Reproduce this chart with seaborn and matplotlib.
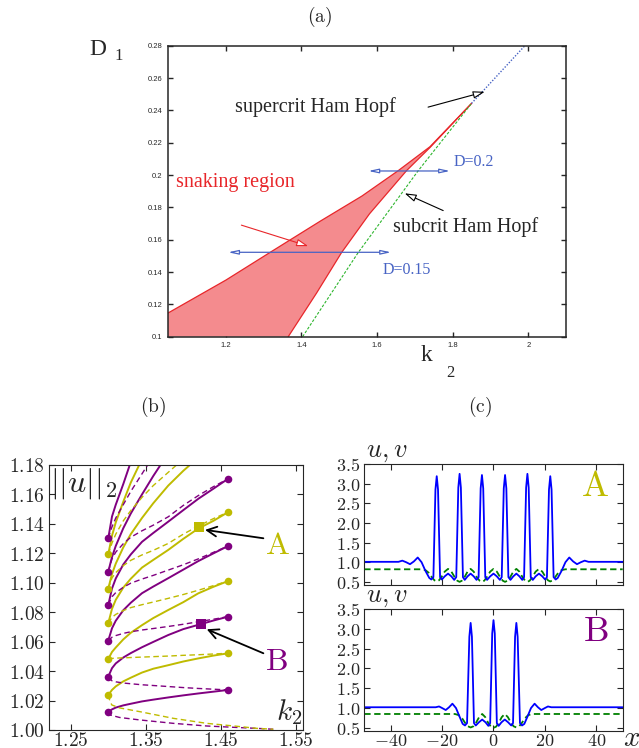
import matplotlib
matplotlib.use("Agg")
import matplotlib.pyplot as plt
import seaborn as sns

sns.set_style("ticks")
plt.rcParams["font.family"] = ["DejaVu Sans"]
plt.rcParams["mathtext.fontset"] = "cm"

# ---------------- (a) data: D1 versus k2 ----------------
snake_up_k = [1.046, 1.20, 1.316, 1.45, 1.56, 1.656, 1.74, 1.85]
snake_up_d = [0.1145, 0.135, 0.152, 0.1715, 0.187, 0.2027, 0.2175, 0.2443]
snake_lo_k = [1.365, 1.44, 1.506, 1.58, 1.678, 1.74, 1.85]
snake_lo_d = [0.100, 0.127, 0.152, 0.176, 0.2027, 0.2170, 0.2443]
subcrit_k = [1.403, 1.55, 1.709, 1.85]
subcrit_d = [0.100, 0.152, 0.2027, 0.2443]
supercrit_k = [1.85, 1.995]
supercrit_d = [0.2443, 0.281]
a_xticks = [1.2, 1.4, 1.6, 1.8, 2.0]
a_xlabels = ["1.2", "1.4", "1.6", "1.8", "2"]
a_yticks = [0.1, 0.12, 0.14, 0.16, 0.18, 0.2, 0.22, 0.24, 0.26, 0.28]
a_ylabels = ["0.1", "0.12", "0.14", "0.16", "0.18", "0.2", "0.22", "0.24", "0.26", "0.28"]

# ---------------- (b) data: ||u||_2 versus k2 ----------------
ks = [1.300, 1.305, 1.310, 1.320, 1.330, 1.345, 1.360, 1.380, 1.400, 1.420, 1.440, 1.460]
# stable (solid) branches, left fold -> right fold
p_s1 = [1.0124, 1.0140, 1.0152, 1.0167, 1.0178, 1.0194, 1.0206, 1.0221, 1.0235, 1.0248, 1.0260, 1.0272]
p_s2 = [1.0362, 1.0420, 1.0452, 1.0492, 1.0522, 1.0562, 1.0598, 1.0645, 1.0685, 1.0714, 1.0743, 1.0770]
p_s3 = [1.0607, 1.0691, 1.0742, 1.0813, 1.0864, 1.0929, 1.0974, 1.1031, 1.1089, 1.1147, 1.1199, 1.1250]
p_s4 = [1.0849, 1.0961, 1.1029, 1.1124, 1.1192, 1.1278, 1.1338, 1.1415, 1.1493, 1.1570, 1.1638, 1.1707]
y_s1 = [1.0238, 1.0272, 1.0296, 1.0330, 1.0355, 1.0390, 1.0416, 1.0440, 1.0465, 1.0486, 1.0505, 1.0521]
y_s2 = [1.0482, 1.0530, 1.0560, 1.0615, 1.0660, 1.0712, 1.0760, 1.0815, 1.0868, 1.0928, 1.0972, 1.1012]
y_s3 = [1.0725, 1.0823, 1.0884, 1.0967, 1.1027, 1.1103, 1.1155, 1.1223, 1.1298, 1.1368, 1.1420, 1.1480]
# unstable (dashed) branches, left fold -> right fold
p_d1 = [1.0358, 1.0334, 1.0327, 1.0319, 1.0314, 1.0307, 1.0302, 1.0295, 1.0288, 1.0282, 1.0277, 1.0272]
p_d2 = [1.0607, 1.0630, 1.0641, 1.0656, 1.0667, 1.0679, 1.0689, 1.0703, 1.0718, 1.0735, 1.0752, 1.0770]
p_d3 = [1.0849, 1.0905, 1.0933, 1.0969, 1.0997, 1.1025, 1.1050, 1.1086, 1.1122, 1.1162, 1.1206, 1.1250]
p_d4 = [1.1075, 1.1163, 1.1208, 1.1265, 1.1309, 1.1353, 1.1391, 1.1448, 1.1525, 1.1592, 1.1652, 1.1707]
y_d1 = [1.0482, 1.0486, 1.0488, 1.0490, 1.0492, 1.0495, 1.0498, 1.0502, 1.0507, 1.0511, 1.0516, 1.0521]
y_d2 = [1.0725, 1.0765, 1.0785, 1.0811, 1.0831, 1.0851, 1.0869, 1.0894, 1.0920, 1.0949, 1.0980, 1.1012]
y_d3 = [1.0960, 1.1033, 1.1069, 1.1116, 1.1152, 1.1189, 1.1220, 1.1267, 1.1330, 1.1385, 1.1435, 1.1480]
# branches that leave through the top
p_s5 = [1.1075, 1.1175, 1.1250, 1.1370, 1.1470, 1.1600, 1.1725, 1.1880]
p_s6 = [1.1302, 1.1450, 1.1530, 1.1670, 1.1820, 1.2000]
y_s4 = [1.0960, 1.1060, 1.1130, 1.1240, 1.1330, 1.1440, 1.1540, 1.1660, 1.1760, 1.1850]
y_s5 = [1.1193, 1.1320, 1.1410, 1.1550, 1.1680, 1.1840]
p_d5 = [1.1302, 1.1380, 1.1440, 1.1530, 1.1620, 1.1740, 1.1860]
y_d4 = [1.1193, 1.1270, 1.1330, 1.1420, 1.1490, 1.1580, 1.1660, 1.1750, 1.1840]
# branches towards the homogeneous state
p_d0_k = [1.300, 1.3024, 1.315, 1.3424, 1.3868, 1.4313, 1.4757, 1.498, 1.52]
p_d0 = [1.0124, 1.0102, 1.0085, 1.0068, 1.0045, 1.0027, 1.0016, 1.0011, 1.0005]
y_d0_k = [1.300, 1.302, 1.3047, 1.315, 1.3424, 1.3868, 1.4313, 1.4757, 1.498, 1.52]
y_d0 = [1.0238, 1.0200, 1.0170, 1.0150, 1.0124, 1.0079, 1.0045, 1.0023, 1.0011, 1.0005]
# fold points
p_left = [1.0124, 1.0362, 1.0607, 1.0849, 1.1075, 1.1302]
y_left = [1.0238, 1.0482, 1.0725, 1.0960, 1.1193]
p_right = [1.0272, 1.0770, 1.1250, 1.1707]
y_right = [1.0521, 1.1012, 1.1480]
k_left, k_right = 1.30, 1.46
pt_A = (1.4216, 1.138)
pt_B = (1.4237, 1.0718)
b_yticks = [1.00, 1.02, 1.04, 1.06, 1.08, 1.10, 1.12, 1.14, 1.16, 1.18]
b_ylabels = ["1.00", "1.02", "1.04", "1.06", "1.08", "1.10", "1.12", "1.14", "1.16", "1.18"]
b_xticks = [1.25, 1.35, 1.45, 1.55]
b_xlabels = ["1.25", "1.35", "1.45", "1.55"]

# ---------------- (c) data: profiles u (solid) and v (dashed) ----------------
uA_x = [-50.3, -40, -37, -35.5, -34, -32.5, -31, -29.5, -28, -26.5, -25, -24.2, -23.4, -22.6, -22.1, -21.6,
        -20.8, -20.1, -19.0, -17.7, -16.4, -15.3, -14.5, -13.7, -13.2, -12.7, -11.9, -11.2, -10.1, -8.9,
        -7.7, -6.6, -5.8, -5.0, -4.5, -4.0, -3.2, -2.5, -1.3, 0, 1.3, 2.5, 3.2, 4.0, 4.5, 5.0, 5.8, 6.6,
        7.7, 8.9, 10.1, 11.2, 11.9, 12.7, 13.2, 13.7, 14.5, 15.3, 16.4, 17.7, 19.0, 20.1, 20.8, 21.6,
        22.1, 22.6, 23.4, 24.2, 25, 26.5, 28, 29.5, 31, 32.5, 34, 35.5, 37, 40, 50.3]
uA = [1.01, 1.01, 1.01, 1.04, 1.00, 0.95, 1.02, 1.12, 1.00, 0.78, 0.60, 0.56, 0.62, 2.85, 3.19, 2.85,
      0.62, 0.56, 0.64, 0.71, 0.64, 0.55, 0.62, 2.90, 3.25, 2.90, 0.62, 0.55, 0.64, 0.71,
      0.64, 0.55, 0.62, 2.88, 3.22, 2.88, 0.62, 0.55, 0.64, 0.71, 0.64, 0.55, 0.62, 2.88, 3.22, 2.88, 0.62, 0.55,
      0.64, 0.71, 0.64, 0.55, 0.62, 2.90, 3.25, 2.90, 0.62, 0.55, 0.64, 0.71, 0.64, 0.56, 0.62, 2.85,
      3.19, 2.85, 0.62, 0.56, 0.60, 0.78, 1.00, 1.12, 1.02, 0.95, 1.00, 1.04, 1.01, 1.01, 1.01]
vA_x = [-50.3, -28, -26.5, -25.2, -24, -23, -22.1, -21.2, -20.2, -19, -17.7, -16.4, -15.2, -14.1, -13.2,
        -12.3, -11.2, -10.1, -8.9, -7.7, -6.6, -5.4, -4.5, -3.6, -2.5, -1.3, 0, 1.3, 2.5, 3.6, 4.5, 5.4,
        6.6, 7.7, 8.9, 10.1, 11.2, 12.3, 13.2, 14.1, 15.2, 16.4, 17.7, 19, 20.2, 21.2, 22.1, 23, 24,
        25.2, 26.5, 28, 50.3]
vA = [0.82, 0.82, 0.80, 0.73, 0.62, 0.54, 0.51, 0.54, 0.63, 0.76, 0.83, 0.76, 0.63, 0.53, 0.50,
      0.53, 0.63, 0.76, 0.83, 0.76, 0.63, 0.53, 0.50, 0.53, 0.63, 0.76, 0.83, 0.76, 0.63, 0.53, 0.50, 0.53,
      0.63, 0.76, 0.83, 0.76, 0.63, 0.53, 0.50, 0.53, 0.63, 0.76, 0.83, 0.76, 0.63, 0.54, 0.51, 0.54, 0.62,
      0.73, 0.80, 0.82, 0.82]
uB_x = [-50.3, -25, -22.5, -21.2, -20, -18.6, -17.3, -16.0, -14.6, -13.2, -12, -11.1, -10.3, -9.4, -8.9,
        -8.4, -7.6, -6.9, -5.7, -4.4, -3.1, -2.0, -1.3, -0.5, 0, 0.5, 1.3, 2.0, 3.1, 4.4, 5.7, 6.9, 7.6,
        8.4, 8.9, 9.4, 10.3, 11.1, 12, 13.2, 14.6, 16.0, 17.3, 18.6, 20, 21.2, 22.5, 25, 50.3]
uB = [1.02, 1.02, 1.02, 1.04, 1.00, 0.95, 1.02, 1.11, 1.00, 0.78, 0.60, 0.56, 0.62, 2.80, 3.15,
      2.80, 0.62, 0.56, 0.64, 0.71, 0.64, 0.55, 0.62, 2.88, 3.22, 2.88, 0.62, 0.55, 0.64, 0.71, 0.64, 0.56, 0.62,
      2.80, 3.15, 2.80, 0.62, 0.56, 0.60, 0.78, 1.00, 1.11, 1.02, 0.95, 1.00, 1.04, 1.02, 1.02, 1.02]
vB_x = [-50.3, -15, -13.5, -12.2, -11, -10, -8.9, -7.8, -6.8, -5.6, -4.4, -3.2, -2.1, -1.0, 0,
        1.0, 2.1, 3.2, 4.4, 5.6, 6.8, 7.8, 8.9, 10, 11, 12.2, 13.5, 15, 50.3]
vB = [0.85, 0.85, 0.82, 0.74, 0.62, 0.54, 0.51, 0.54, 0.63, 0.77, 0.85, 0.77, 0.63, 0.53, 0.50,
      0.53, 0.63, 0.77, 0.85, 0.77, 0.63, 0.54, 0.51, 0.54, 0.62, 0.74, 0.82, 0.85, 0.85]
c_yticks = [0.5, 1.0, 1.5, 2.0, 2.5, 3.0, 3.5]
c_ylabels = ["0.5", "1.0", "1.5", "2.0", "2.5", "3.0", "3.5"]
c_xticks = [-40, -20, 0, 20, 40]
c_xlabels = ["-40", "-20", "0", "20", "40"]

PURPLE = "#800080"
YELLOW = "#bfbb00"
RED = "#e8262a"
FILL = "#f48b8e"
BLUE_A = "#4763c4"


def curve(ax, x, y, color, ls="-", lw=1.3):
    sns.lineplot(x=list(x), y=list(y), ax=ax, color=color, linestyle=ls, linewidth=lw,
                 sort=False, estimator=None)


def math_ticks(ax, xt, xl, yt, yl, size):
    ax.set_xticks(xt)
    ax.set_xticklabels(["$%s$" % s for s in xl] if xl else [], fontsize=size)
    ax.set_yticks(yt)
    ax.set_yticklabels(["$%s$" % s for s in yl], fontsize=size)
    ax.tick_params(direction="in", top=True, right=True, length=4.5, width=0.8)
    ax.tick_params(axis="x", pad=0.5)
    ax.tick_params(axis="y", pad=3)
    for s in ax.spines.values():
        s.set_linewidth(0.8)
        s.set_visible(True)


fig = plt.figure(figsize=(6.39, 7.48), dpi=100)

# =============== (a) ===============
axa = fig.add_axes([0.2624, 0.5499, 0.6234, 0.3890])
poly_k = [1.046] + snake_up_k + snake_lo_k[::-1]
poly_d = [0.100] + snake_up_d + snake_lo_d[::-1]
axa.fill(poly_k, poly_d, color=FILL, lw=0)
curve(axa, snake_up_k, snake_up_d, RED, lw=0.9)
curve(axa, snake_lo_k, snake_lo_d, RED, lw=0.9)
curve(axa, subcrit_k, subcrit_d, "#2db52d", ls=(0, (2.5, 1.5)), lw=0.8)
curve(axa, supercrit_k, supercrit_d, BLUE_A, ls=(0, (1, 1.2)), lw=1.0)
axa.set_xlim(1.046, 2.1)
axa.set_ylim(0.1, 0.28)
axa.set_xticks(a_xticks)
axa.set_xticklabels(a_xlabels, fontsize=5.5, family="Liberation Sans")
axa.set_yticks(a_yticks)
axa.set_yticklabels(a_ylabels, fontsize=5.5, family="Liberation Sans")
axa.tick_params(direction="in", top=True, right=True, length=3.5, width=1.0, pad=4)
for s in axa.spines.values():
    s.set_linewidth(1.1)
axa.set_xlabel("")
axa.set_ylabel("")

serif = "Liberation Serif"
axa.text(1.224, 0.2392, "supercrit Ham Hopf", fontsize=14.5, family=serif)
axa.text(1.641, 0.165, "subcrit Ham Hopf", fontsize=14.5, family=serif)
axa.text(1.068, 0.1924, "snaking region", fontsize=14.5, family=serif, color=RED)
axa.text(1.803, 0.2056, "D=0.2", fontsize=11.5, family=serif, color=BLUE_A)
axa.text(1.6145, 0.1386, "D=0.15", fontsize=11.5, family=serif, color=BLUE_A)
open_head = "-|>,head_length=0.7,head_width=0.22"
axa.annotate("", xy=(1.885, 0.2515), xytext=(1.735, 0.242),
             arrowprops=dict(arrowstyle=open_head, fc="white", ec="black", lw=0.8, shrinkA=0, shrinkB=0))
axa.annotate("", xy=(1.673, 0.1887), xytext=(1.775, 0.178),
             arrowprops=dict(arrowstyle=open_head, fc="white", ec="black", lw=0.8, shrinkA=0, shrinkB=0))
axa.annotate("", xy=(1.418, 0.156), xytext=(1.241, 0.169),
             arrowprops=dict(arrowstyle=open_head, fc="white", ec=RED, lw=0.8, shrinkA=0, shrinkB=0))
both_head = "<|-|>,head_length=0.6,head_width=0.13"
axa.annotate("", xy=(1.793, 0.2025), xytext=(1.577, 0.2025),
             arrowprops=dict(arrowstyle=both_head, fc="white", ec=BLUE_A, lw=0.9, shrinkA=0, shrinkB=0))
axa.annotate("", xy=(1.637, 0.1522), xytext=(1.206, 0.1522),
             arrowprops=dict(arrowstyle=both_head, fc="white", ec=BLUE_A, lw=0.9, shrinkA=0, shrinkB=0))

fig.text(89 / 639, 1 - 55 / 748, "D", fontsize=17, family=serif)
fig.text(114 / 639, 1 - 60 / 748, "1", fontsize=12, family=serif)
fig.text(421 / 639, 1 - 361 / 748, "k", fontsize=17, family=serif)
fig.text(446 / 639, 1 - 377 / 748, "2", fontsize=12, family=serif)
fig.text(320 / 639, 1 - 17 / 748, r"$\mathrm{(a)}$", fontsize=14, ha="center", va="center")
fig.text(153 / 639, 1 - 407 / 748, r"$\mathrm{(b)}$", fontsize=14, ha="center", va="center")
fig.text(480 / 639, 1 - 407 / 748, r"$\mathrm{(c)}$", fontsize=14, ha="center", va="center")

# =============== (b) ===============
axb = fig.add_axes([0.0767, 0.0241, 0.3979, 0.3543])
dash = (0, (4, 2.5))
for ys in [p_s1, p_s2, p_s3, p_s4, p_s5, p_s6]:
    curve(axb, ks[:len(ys)], ys, PURPLE, lw=1.4)
for ys in [y_s1, y_s2, y_s3, y_s4, y_s5]:
    curve(axb, ks[:len(ys)], ys, YELLOW, lw=1.4)
for ys in [p_d1, p_d2, p_d3, p_d4, p_d5]:
    curve(axb, ks[:len(ys)], ys, PURPLE, ls=dash, lw=1.0)
for ys in [y_d1, y_d2, y_d3, y_d4]:
    curve(axb, ks[:len(ys)], ys, YELLOW, ls=dash, lw=1.0)
curve(axb, p_d0_k, p_d0, PURPLE, ls=dash, lw=1.0)
curve(axb, y_d0_k, y_d0, YELLOW, ls=dash, lw=1.0)
sns.scatterplot(x=[k_left] * len(p_left) + [k_right] * len(p_right), y=p_left + p_right,
                ax=axb, color=PURPLE, s=30, linewidth=0, zorder=5)
sns.scatterplot(x=[k_left] * len(y_left) + [k_right] * len(y_right), y=y_left + y_right,
                ax=axb, color=YELLOW, s=30, linewidth=0, zorder=5)
sns.scatterplot(x=[pt_A[0]], y=[pt_A[1]], ax=axb, color=YELLOW, marker="s", s=45, linewidth=0, zorder=6)
sns.scatterplot(x=[pt_B[0]], y=[pt_B[1]], ax=axb, color=PURPLE, marker="s", s=45, linewidth=0, zorder=6)
axb.set_xlim(1.221, 1.560)
axb.set_ylim(1.0, 1.18)
math_ticks(axb, b_xticks, b_xlabels, b_yticks, b_ylabels, 14)
axb.set_xlabel("")
axb.set_ylabel("")
axb.annotate("", xy=(1.429, 1.1359), xytext=(1.5068, 1.1302),
             arrowprops=dict(arrowstyle="->,head_length=0.7,head_width=0.35", color="black", lw=1.3,
                             shrinkA=0, shrinkB=0))
axb.annotate("", xy=(1.4313, 1.0684), xytext=(1.5068, 1.0521),
             arrowprops=dict(arrowstyle="->,head_length=0.7,head_width=0.35", color="black", lw=1.3,
                             shrinkA=0, shrinkB=0))
axb.text(1.5255, 1.1252, r"$\mathrm{A}$", fontsize=23, color=YELLOW, ha="center", va="center")
axb.text(1.5247, 1.0464, r"$\mathrm{B}$", fontsize=23, color=PURPLE, ha="center", va="center")
axb.text(0.005, 0.995, r"$||u||_2$", transform=axb.transAxes, fontsize=23, ha="left", va="top")
axb.text(0.995, 0.01, r"$k_2$", transform=axb.transAxes, fontsize=21, ha="right", va="bottom")

# =============== (c) ===============
axA = fig.add_axes([0.5701, 0.2179, 0.4044, 0.1618])
axB = fig.add_axes([0.5701, 0.0227, 0.4044, 0.1631])
for ax, ux, u, vx, v, name, col in [(axA, uA_x, uA, vA_x, vA, "A", YELLOW),
                                    (axB, uB_x, uB, vB_x, vB, "B", PURPLE)]:
    curve(ax, vx, v, "#008000", ls=(0, (3.5, 2)), lw=1.3)
    curve(ax, ux, u, "blue", lw=1.3)
    ax.set_xlim(-50.3, 50.3)
    ax.set_ylim(0.42, 3.5)
    math_ticks(ax, c_xticks, c_xlabels if name == "B" else None, c_yticks, c_ylabels, 13)
    ax.set_xlabel("")
    ax.set_ylabel("")
    ax.text(0.945, 0.82, r"$\mathrm{%s}$" % name, transform=ax.transAxes, fontsize=26, color=col,
            ha="right", va="center")
    ax.text(0.005, 1.0, r"$u,v$", transform=ax.transAxes, fontsize=19, ha="left", va="bottom")
axB.text(1.0, -0.06, r"$x$", transform=axB.transAxes, fontsize=21, ha="left", va="center")

fig.savefig("out.png", dpi=100)
